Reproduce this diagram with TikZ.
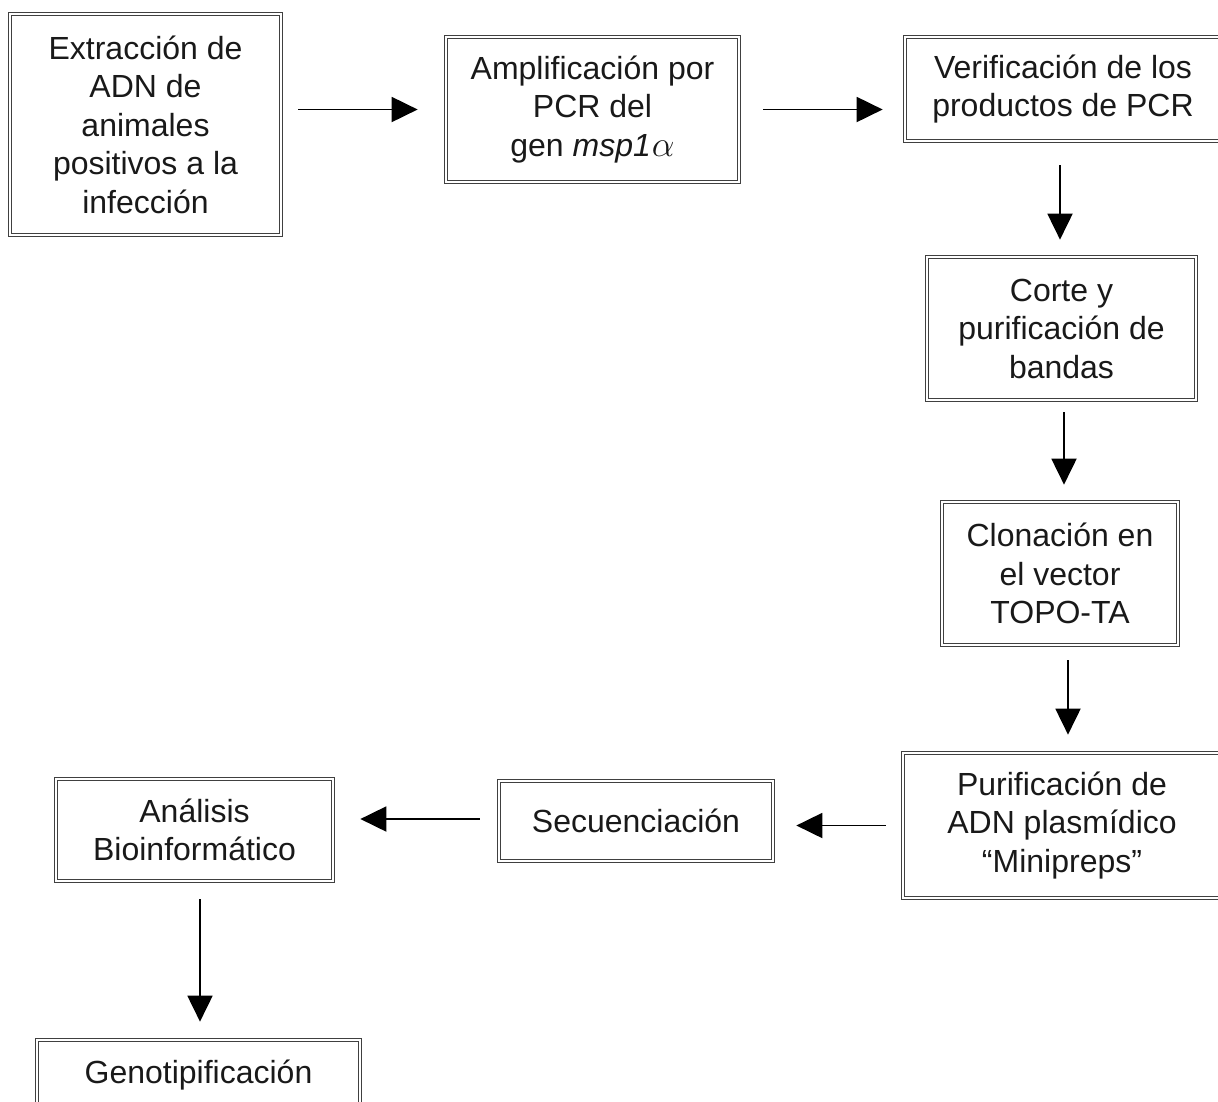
\documentclass[tikz,border=0pt]{standalone}
\usepackage{fontspec}
\setmainfont{Liberation Sans}
\usetikzlibrary{arrows.meta,calc}
\begin{document}
\begin{tikzpicture}[x=1pt,y=-1pt,
  box/.style={draw=black!75, double=white, double distance=2.6pt, line width=0.7pt,
    inner sep=0pt, align=center, font=\fontsize{32}{38.5}\selectfont, text=black!90},
  arr/.style={line width=1.9pt, -{Triangle[length=26pt,width=25pt]}}]
\useasboundingbox (0,0) rectangle (1218,1101);
\clip (0,0) rectangle (1218,1101);
\node[box, minimum width=271pt, minimum height=221pt] (ext) at (145.5,124.5)
  {Extracción de\\ADN de\\animales\\positivos a la\\infección};
\node[box, minimum width=293pt, minimum height=145pt] (amp) at (592.5,109.5)
  {Amplificación por\\PCR del\\gen \textit{msp1}\kern1pt\scalebox{1.45}{$\alpha$}};
\node[box, minimum width=316pt, minimum height=104pt] (ver) at (1063,89)
  {Verificación de los\\productos de PCR};
\node[box, minimum width=269pt, minimum height=143pt] (cor) at (1061.5,328.5)
  {Corte y\\purificación de\\bandas};
\node[box, minimum width=236pt, minimum height=143pt] (clo) at (1060,573.5)
  {Clonación en\\el vector\\TOPO-TA};
\node[box, minimum width=318pt, minimum height=145pt] (pur) at (1062,825.5)
  {Purificación de\\ADN plasmídico\\“Minipreps”};
\node[box, minimum width=274pt, minimum height=80pt] (sec) at (636,821)
  {Secuenciación};
\node[box, minimum width=277pt, minimum height=102pt] (ana) at (194.5,830)
  {Análisis\\Bioinformático};
\node[box, minimum width=323pt, minimum height=70pt] (gen) at (198.5,1075)
  {Genotipificación};
\draw[arr, shorten <=17pt, shorten >=28pt] (ext.east |- amp.west) -- (amp.west);
\draw[arr, shorten <=24pt, shorten >=22pt] (amp.east) -- (amp.east -| ver.west);
\draw[arr, shorten <=24pt, shorten >=17pt] ([xshift=-3pt]ver.south) -- ([xshift=-3pt]ver.south |- cor.north);
\draw[arr, shorten <=12pt, shorten >=17pt] ([xshift=2.5pt]cor.south) -- ([xshift=2.5pt]cor.south |- clo.north);
\draw[arr, shorten <=15pt, shorten >=18pt] ([xshift=8pt]clo.south) -- ([xshift=8pt]clo.south |- pur.north);
\draw[arr, shorten <=17pt, shorten >=23pt] (pur.west) -- (pur.west -| sec.east);
\draw[arr, shorten <=19pt, shorten >=27pt] ([yshift=2pt]sec.west) -- ([yshift=2pt]sec.west -| ana.east);
\draw[arr, shorten <=18pt, shorten >=18pt] ([xshift=5.5pt]ana.south) -- ([xshift=5.5pt]ana.south |- gen.north);
\end{tikzpicture}
\end{document}
